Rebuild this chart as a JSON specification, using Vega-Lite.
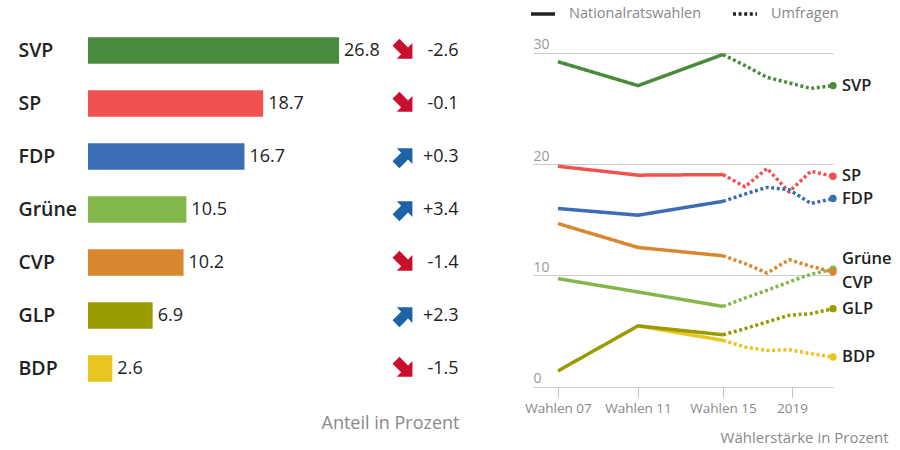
{
  "$schema": "https://vega.github.io/schema/vega-lite/v6.json",
  "padding": {"left": 18, "top": 0, "right": 5, "bottom": 5},
  "background": "white",
  "config": {
    "view": {"stroke": null},
    "font": "Open Sans",
    "locale": {"number": {"decimal": ".", "thousands": ",", "grouping": [3], "currency": ["", ""], "minus": "-"}}
  },
  "datasets": {
    "bars": [
      {"party": "SVP", "value": 26.8, "change": -2.6},
      {"party": "SP", "value": 18.7, "change": -0.1},
      {"party": "FDP", "value": 16.7, "change": 0.3},
      {"party": "Grüne", "value": 10.5, "change": 3.4},
      {"party": "CVP", "value": 10.2, "change": -1.4},
      {"party": "GLP", "value": 6.9, "change": 2.3},
      {"party": "BDP", "value": 2.6, "change": -1.5}
    ],
    "lines": [
      {"party": "SVP", "type": "Nationalratswahlen", "t": 0, "v": 29.2},
      {"party": "SVP", "type": "Nationalratswahlen", "t": 4, "v": 27.05},
      {"party": "SVP", "type": "Nationalratswahlen", "t": 8.25, "v": 29.85},
      {"party": "SVP", "type": "Umfragen", "t": 8.25, "v": 29.85},
      {"party": "SVP", "type": "Umfragen", "t": 9.35, "v": 28.85},
      {"party": "SVP", "type": "Umfragen", "t": 10.45, "v": 27.8},
      {"party": "SVP", "type": "Umfragen", "t": 11.55, "v": 27.3},
      {"party": "SVP", "type": "Umfragen", "t": 12.65, "v": 26.8},
      {"party": "SVP", "type": "Umfragen", "t": 13.75, "v": 27.05},
      {"party": "SP", "type": "Nationalratswahlen", "t": 0, "v": 19.8},
      {"party": "SP", "type": "Nationalratswahlen", "t": 4, "v": 19.0},
      {"party": "SP", "type": "Nationalratswahlen", "t": 8.25, "v": 19.05},
      {"party": "SP", "type": "Umfragen", "t": 8.25, "v": 19.05},
      {"party": "SP", "type": "Umfragen", "t": 9.35, "v": 17.95},
      {"party": "SP", "type": "Umfragen", "t": 10.45, "v": 19.6},
      {"party": "SP", "type": "Umfragen", "t": 11.55, "v": 17.5},
      {"party": "SP", "type": "Umfragen", "t": 12.65, "v": 19.35},
      {"party": "SP", "type": "Umfragen", "t": 13.75, "v": 18.9},
      {"party": "FDP", "type": "Nationalratswahlen", "t": 0, "v": 16.0},
      {"party": "FDP", "type": "Nationalratswahlen", "t": 4, "v": 15.4},
      {"party": "FDP", "type": "Nationalratswahlen", "t": 8.25, "v": 16.65},
      {"party": "FDP", "type": "Umfragen", "t": 8.25, "v": 16.65},
      {"party": "FDP", "type": "Umfragen", "t": 9.35, "v": 17.3},
      {"party": "FDP", "type": "Umfragen", "t": 10.45, "v": 17.9},
      {"party": "FDP", "type": "Umfragen", "t": 11.55, "v": 17.7},
      {"party": "FDP", "type": "Umfragen", "t": 12.65, "v": 16.45},
      {"party": "FDP", "type": "Umfragen", "t": 13.75, "v": 16.9},
      {"party": "Grüne", "type": "Nationalratswahlen", "t": 0, "v": 9.7},
      {"party": "Grüne", "type": "Nationalratswahlen", "t": 4, "v": 8.5},
      {"party": "Grüne", "type": "Nationalratswahlen", "t": 8.25, "v": 7.2},
      {"party": "Grüne", "type": "Umfragen", "t": 8.25, "v": 7.2},
      {"party": "Grüne", "type": "Umfragen", "t": 9.35, "v": 7.95},
      {"party": "Grüne", "type": "Umfragen", "t": 10.45, "v": 8.65},
      {"party": "Grüne", "type": "Umfragen", "t": 11.55, "v": 9.4},
      {"party": "Grüne", "type": "Umfragen", "t": 12.65, "v": 10.1},
      {"party": "Grüne", "type": "Umfragen", "t": 13.75, "v": 10.55},
      {"party": "CVP", "type": "Nationalratswahlen", "t": 0, "v": 14.65},
      {"party": "CVP", "type": "Nationalratswahlen", "t": 4, "v": 12.5},
      {"party": "CVP", "type": "Nationalratswahlen", "t": 8.25, "v": 11.75},
      {"party": "CVP", "type": "Umfragen", "t": 8.25, "v": 11.75},
      {"party": "CVP", "type": "Umfragen", "t": 9.35, "v": 11.05},
      {"party": "CVP", "type": "Umfragen", "t": 10.45, "v": 10.2},
      {"party": "CVP", "type": "Umfragen", "t": 11.55, "v": 11.4},
      {"party": "CVP", "type": "Umfragen", "t": 12.65, "v": 10.8},
      {"party": "CVP", "type": "Umfragen", "t": 13.75, "v": 10.3},
      {"party": "BDP", "type": "Nationalratswahlen", "t": 4, "v": 5.45},
      {"party": "BDP", "type": "Nationalratswahlen", "t": 8.25, "v": 4.15},
      {"party": "BDP", "type": "Umfragen", "t": 8.25, "v": 4.15},
      {"party": "BDP", "type": "Umfragen", "t": 9.35, "v": 3.55},
      {"party": "BDP", "type": "Umfragen", "t": 10.45, "v": 3.25},
      {"party": "BDP", "type": "Umfragen", "t": 11.55, "v": 3.3},
      {"party": "BDP", "type": "Umfragen", "t": 12.65, "v": 2.95},
      {"party": "BDP", "type": "Umfragen", "t": 13.75, "v": 2.65},
      {"party": "GLP", "type": "Nationalratswahlen", "t": 0, "v": 1.4},
      {"party": "GLP", "type": "Nationalratswahlen", "t": 4, "v": 5.45},
      {"party": "GLP", "type": "Nationalratswahlen", "t": 8.25, "v": 4.65},
      {"party": "GLP", "type": "Umfragen", "t": 8.25, "v": 4.65},
      {"party": "GLP", "type": "Umfragen", "t": 9.35, "v": 5.2},
      {"party": "GLP", "type": "Umfragen", "t": 10.45, "v": 5.8},
      {"party": "GLP", "type": "Umfragen", "t": 11.55, "v": 6.4},
      {"party": "GLP", "type": "Umfragen", "t": 12.65, "v": 6.55},
      {"party": "GLP", "type": "Umfragen", "t": 13.75, "v": 7.0}
    ]
  },
  "bounds": "flush",
  "spacing": 74,
  "hconcat": [
    {
      "width": 371,
      "height": 371,
      "data": {"name": "bars"},
      "encoding": {
        "y": {
          "field": "party", "type": "nominal", "sort": null,
          "scale": {"paddingInner": 0.5, "paddingOuter": 0.25},
          "axis": {"title": null, "domain": false, "ticks": false, "tickSize": 0, "labelAlign": "left", "labelBaseline": "middle", "labelPadding": 70, "labelFontSize": 19.5, "labelFontWeight": 600, "labelColor": "#222222", "labelFont": "Open Sans"}
        },
        "x": {
          "field": "value", "type": "quantitative",
          "scale": {"domain": [0, 39.6], "nice": false, "zero": true},
          "axis": {"title": "Anteil in Prozent", "labels": false, "ticks": false, "domain": false, "grid": false, "titleAnchor": "end", "titleFontSize": 18, "titleFontWeight": "normal", "titleColor": "#8a8a8a", "titleFont": "Open Sans", "titlePadding": 19}
        }
      },
      "layer": [
        {
          "mark": {"type": "bar"},
          "encoding": {
            "color": {"field": "party", "type": "nominal", "legend": null,
              "scale": {"domain": ["SVP", "SP", "FDP", "Grüne", "CVP", "GLP", "BDP"], "range": ["#4a8a3c", "#f0534f", "#3b6db4", "#84b74a", "#d9872f", "#9a9b00", "#e8c520"]}}
          }
        },
        {
          "mark": {"type": "text", "align": "left", "baseline": "middle", "dx": 5, "fontSize": 18, "color": "#222222"},
          "encoding": {"text": {"field": "value", "type": "quantitative", "format": ".1f"}}
        },
        {
          "mark": {"type": "point", "shape": "M0,-1L0.95,-0.05L0.42,-0.05L0.42,1L-0.42,1L-0.42,-0.05L-0.95,-0.05Z", "filled": true, "size": 540, "opacity": 1},
          "encoding": {
            "x": {"datum": 33.75},
            "angle": {"condition": {"test": "datum.change < 0", "value": 135}, "value": 45},
            "color": {"condition": {"test": "datum.change < 0", "value": "#c8102e"}, "value": "#1e63a6"}
          }
        },
        {
          "mark": {"type": "text", "align": "right", "baseline": "middle", "fontSize": 18, "color": "#222222"},
          "encoding": {
            "x": {"datum": 39.55},
            "text": {"field": "change", "type": "quantitative", "format": "+.1f"}
          }
        }
      ]
    },
    {
      "width": 300,
      "height": 371,
      "encoding": {
        "x": {
          "field": "t", "type": "quantitative",
          "scale": {"domain": [-1.25, 13.75], "nice": false, "zero": false},
          "axis": {
            "values": [0, 4, 8.25, 11.7],
            "labelExpr": "datum.value == 0 ? 'Wahlen 07' : datum.value == 4 ? 'Wahlen 11' : datum.value == 8.25 ? 'Wahlen 15' : '2019'",
            "offset": -8.5, "domain": false, "grid": false, "tickSize": 11, "tickColor": "#c4c4c4", "labelPadding": 4, "labelFlush": false,
            "labelFontSize": 13.5, "labelColor": "#888888", "labelFont": "Open Sans",
            "title": "Wählerstärke in Prozent", "titleX": 355, "titleY": 56, "titleAlign": "right", "titleBaseline": "alphabetic",
            "titleFontSize": 15, "titleFontWeight": "normal", "titleColor": "#8a8a8a", "titleFont": "Open Sans"
          }
        },
        "y": {
          "field": "v", "type": "quantitative",
          "scale": {"domain": [-0.764, 32.59], "nice": false, "zero": false},
          "axis": {
            "title": null, "values": [0, 10, 20, 30], "grid": true, "gridColor": "#cccccc", "domain": false, "ticks": false, "tickSize": 0,
            "labelAlign": "left", "labelBaseline": "alphabetic", "labelPadding": 0, "labelOffset": -4,
            "labelFontSize": 14, "labelColor": "#999999", "labelFont": "Open Sans"
          }
        }
      },
      "layer": [
        {
          "data": {"values": [{"t": 8.25}]},
          "mark": {"type": "rule", "color": "#c4c4c4", "strokeWidth": 1},
          "encoding": {"y": {"datum": 30}, "y2": {"datum": 0}}
        },
        {
          "data": {"name": "lines"},
          "mark": {"type": "line", "strokeWidth": 3.5, "strokeJoin": "round"},
          "encoding": {
            "color": {"field": "party", "type": "nominal", "legend": null,
              "scale": {"domain": ["SVP", "SP", "FDP", "Grüne", "CVP", "GLP", "BDP"], "range": ["#4a8a3c", "#f0534f", "#3b6db4", "#84b74a", "#d9872f", "#9a9b00", "#e8c520"]}},
            "strokeDash": {"field": "type", "type": "nominal",
              "scale": {"domain": ["Nationalratswahlen", "Umfragen"], "range": [[1, 0], [3, 2.6]]},
              "legend": {"orient": "none", "legendX": 441, "legendY": -24, "direction": "horizontal", "title": null,
                "symbolType": "stroke", "symbolSize": 576, "symbolStrokeWidth": 3.5, "symbolStrokeColor": "#222222",
                "labelFontSize": 14.5, "labelColor": "#888888", "labelFont": "Open Sans", "labelOffset": 12, "columnPadding": 24}}
          }
        },
        {
          "data": {"name": "lines"},
          "transform": [{"filter": "datum.t == 13.75"}],
          "mark": {"type": "circle", "size": 55, "opacity": 1},
          "encoding": {
            "color": {"field": "party", "type": "nominal", "legend": null,
              "scale": {"domain": ["SVP", "SP", "FDP", "Grüne", "CVP", "GLP", "BDP"], "range": ["#4a8a3c", "#f0534f", "#3b6db4", "#84b74a", "#d9872f", "#9a9b00", "#e8c520"]}}
          }
        },
        {
          "data": {"name": "lines"},
          "transform": [{"filter": "datum.t == 13.75 && datum.party != 'Grüne' && datum.party != 'CVP'"}],
          "mark": {"type": "text", "align": "left", "baseline": "middle", "dx": 9, "fontSize": 16.5, "fontWeight": 600, "color": "#222222"},
          "encoding": {"text": {"field": "party", "type": "nominal"}}
        },
        {
          "data": {"name": "lines"},
          "transform": [{"filter": "datum.t == 13.75 && datum.party == 'Grüne'"}],
          "mark": {"type": "text", "align": "left", "baseline": "middle", "dx": 9, "dy": -10, "fontSize": 16.5, "fontWeight": 600, "color": "#222222"},
          "encoding": {"text": {"field": "party", "type": "nominal"}}
        },
        {
          "data": {"name": "lines"},
          "transform": [{"filter": "datum.t == 13.75 && datum.party == 'CVP'"}],
          "mark": {"type": "text", "align": "left", "baseline": "middle", "dx": 9, "dy": 11, "fontSize": 16.5, "fontWeight": 600, "color": "#222222"},
          "encoding": {"text": {"field": "party", "type": "nominal"}}
        }
      ]
    }
  ]
}
